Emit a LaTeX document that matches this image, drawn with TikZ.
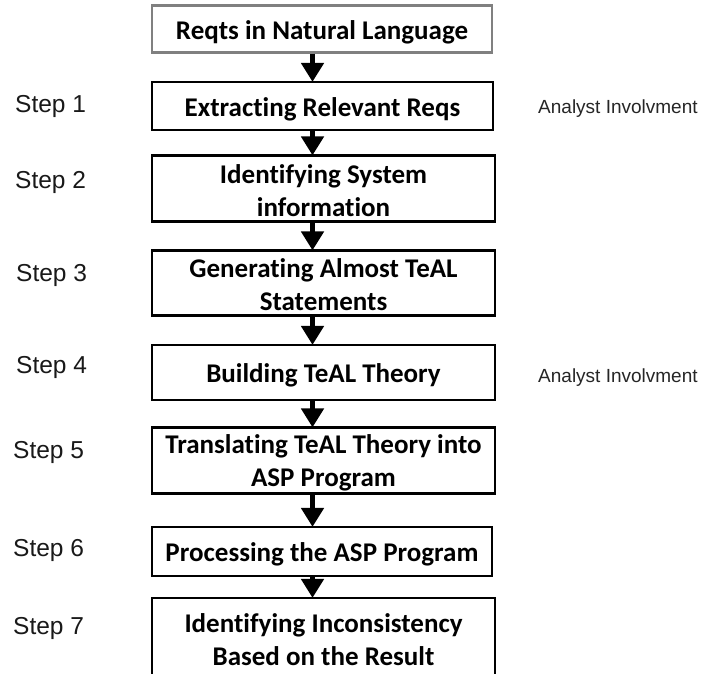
\documentclass[tikz,border=0pt]{standalone}
\usepackage{fontspec}
\setmainfont[Ligatures=NoCommon]{Carlito}
\newfontfamily\stepfont{Liberation Sans}
\usetikzlibrary{arrows.meta}

\tikzset{
  boxtext/.style={font=\bfseries\fontsize{27}{33}\selectfont, align=center, text=black,
    inner sep=0pt, yshift=-3pt},
  stagebox/.style={draw=black, line width=2.2pt, fill=white, inner sep=0pt},
  sourcebox/.style={stagebox, draw=black!50},
  steplabel/.style={font=\stepfont\fontsize{24.5}{28}\selectfont, anchor=west, text=black!90, inner sep=0pt},
  notelabel/.style={font=\stepfont\fontsize{19}{22}\selectfont, anchor=west, text=black!85, inner sep=0pt},
  flow/.style={line width=5pt, -{Triangle[width=22pt,length=19pt]}, shorten >=-1pt}
}

\begin{document}
\begin{tikzpicture}[x=1pt, y=-1pt]
  \useasboundingbox (0,0) rectangle (701,674);
  \clip (0,0) rectangle (701,674);
  \fill[white] (0,0) rectangle (701,674);

  % process stages (centre x, centre y, width, height)
  \node[sourcebox, minimum width=340pt, minimum height=47pt,
        label={[boxtext]center:Reqts in Natural Language}] (src) at (322,29) {};
  \node[stagebox, minimum width=341pt, minimum height=48pt,
        label={[boxtext]center:Extracting Relevant Reqs}] (s1) at (322.5,106) {};
  \node[stagebox, minimum width=343pt, minimum height=66pt,
        label={[boxtext, yshift=1pt]center:Identifying System\\information}] (s2) at (323.5,188.5) {};
  \node[stagebox, minimum width=343pt, minimum height=65pt,
        label={[boxtext, yshift=1pt]center:Generating Almost TeAL\\Statements}] (s3) at (323.5,283) {};
  \node[stagebox, minimum width=343pt, minimum height=55pt,
        label={[boxtext]center:Building TeAL Theory}] (s4) at (323.5,372.5) {};
  \node[stagebox, minimum width=343pt, minimum height=66pt,
        label={[boxtext, yshift=1pt]center:Translating TeAL Theory into\\ASP Program}] (s5) at (323.5,460.5) {};
  \node[stagebox, minimum width=340pt, minimum height=49pt,
        label={[boxtext]center:Processing the ASP Program}] (s6) at (322,551.5) {};
  \node[stagebox, minimum width=343pt, minimum height=86pt,
        label={[boxtext, yshift=4pt]center:Identifying Inconsistency\\Based on the Result}] (s7) at (323.5,641) {};

  % arrows run slightly left of the box centres
  \coordinate (ax) at (312.5,0);
  \draw[flow] (src.south -| ax) -- (s1.north -| ax);
  \draw[flow] (s1.south -| ax) -- (s2.north -| ax);
  \draw[flow] (s2.south -| ax) -- (s3.north -| ax);
  \draw[flow] (s3.south -| ax) -- (s4.north -| ax);
  \draw[flow] (s4.south -| ax) -- (s5.north -| ax);
  \draw[flow] (s5.south -| ax) -- (s6.north -| ax);
  \draw[flow] (s6.south -| ax) -- (s7.north -| ax);

  % step labels
  \node[steplabel] (l1) at (15,106) {Step 1};
  \node[steplabel] (l2) at (15,182) {Step 2};
  \node[steplabel] (l3) at (16,275) {Step 3};
  \node[steplabel] (l4) at (16,367) {Step 4};
  \node[steplabel] (l5) at (13,452) {Step 5};
  \node[steplabel] (l6) at (13,550) {Step 6};
  \node[steplabel] (l7) at (13,628) {Step 7};

  % notes
  \node[notelabel] (n1) at (538,109) {Analyst Involvment};
  \node[notelabel] (n4) at (538,378) {Analyst Involvment};
\end{tikzpicture}
\end{document}
